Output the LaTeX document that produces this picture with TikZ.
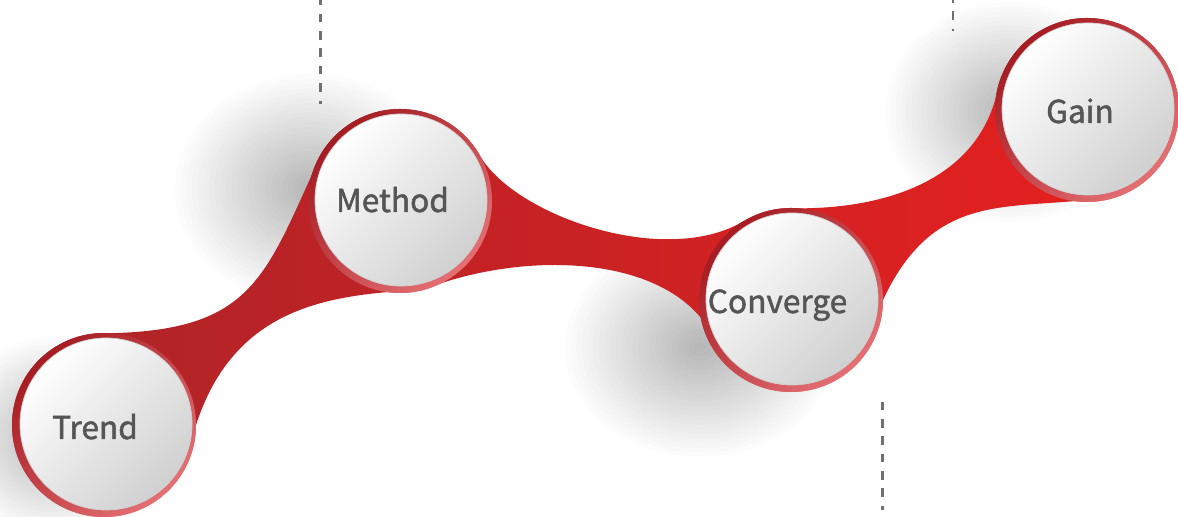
\documentclass[tikz,border=0pt]{standalone}
\usepackage{fontspec}
\newfontfamily\labfont{Noto Sans CJK SC}[FakeBold=1.5]
\definecolor{bandL}{RGB}{176,36,40}
\definecolor{bandR}{RGB}{228,32,32}
\definecolor{ringD}{RGB}{165,28,34}
\definecolor{ringL}{RGB}{228,112,116}
\definecolor{discG}{RGB}{208,208,208}
\definecolor{txt}{RGB}{85,85,85}
\definecolor{guidegray}{RGB}{112,112,112}
\begin{document}
\begin{tikzpicture}[x=0.03cm,y=0.03cm,
  ring/.style={circle, inner sep=0pt, outer sep=0pt, minimum size=5.52cm,
    top color=ringD, bottom color=ringL, shading angle=45},
  disc/.style={circle, inner sep=0pt, outer sep=0pt, minimum size=5.16cm,
    top color=white, bottom color=discG, shading angle=45, draw=black!18, line width=0.6pt},
  lab/.style={anchor=base, text=txt, inner sep=0pt, font=\labfont\fontsize{27}{27}\selectfont},
  guide/.style={draw=guidegray, line width=2.3pt, dash pattern=on 7.3pt off 7.5pt},
  softshade/.style={fill=black, opacity=0.011},
  bandshade/.style={left color=bandL, right color=bandR}]
\fill[white] (0,0) rectangle (1178,517);
\useasboundingbox (0,0) rectangle (1178,517);
% soft shadows
\foreach \k in {1,...,24}{
  \fill[softshade] (310,328) ellipse ({135*\k/24} and {115*\k/24});
  \fill[softshade] (1010,405) ellipse ({125*\k/24} and {110*\k/24});
  \fill[softshade] (700,170) ellipse ({135*\k/24} and {110*\k/24});
  \fill[softshade] (50,80) ellipse ({95*\k/24} and {100*\k/24});
}
% ring nodes
\node[ring] (T) at (104,92) {};
\node[ring] (M) at (400,316) {};
\node[ring] (C) at (791,217) {};
\node[ring] (G) at (1087,407) {};
% bands
\shade[bandshade]
  (T.95) .. controls +(0:160) and +(245:140) .. (M.147) -- (M.center) -- (M.262)
     .. controls +(185:80) and +(72:110) .. (T.0) -- (T.center) -- cycle
  (M.28) .. controls +(-58:70) and +(211:90) .. (C.121) -- (C.center) -- (C.191)
     .. controls +(130:85) and +(22:100) .. (M.283) -- (M.center) -- cycle
  (C.85) .. controls +(0:80) and +(255:90) .. (G.172) -- (G.center) -- (G.262)
     .. controls +(185:80) and +(65:110) .. (C.0) -- (C.center) -- cycle;
% redraw rings over bands
\node[ring] at (T) {};
\node[ring] at (M) {};
\node[ring] at (C) {};
\node[ring] at (G) {};
% white discs
\node[disc] (Tw) at (106,93) {};
\node[disc] (Mw) at (401,317) {};
\node[disc] (Cw) at (792,218) {};
\node[disc] (Gw) at (1088,408) {};
% labels
\node[lab] (Tt) at (95,78) {Trend};
\node[lab] (Mt) at (392.5,305) {Method};
\node[lab] (Ct) at (777.5,204) {Converge};
\node[lab] (Gt) at (1080,394) {Gain};
% dashed guides
\coordinate (d1a) at (320.5,517);
\coordinate (d1b) at (320.5,412.5);
\coordinate (d2a) at (953,517);
\coordinate (d2b) at (953,486);
\coordinate (d3a) at (882.3,115.3);
\coordinate (d3b) at (882.3,7);
\draw[guide, dash phase=3pt] (d1a) -- (d1b);
\draw[guide, dash phase=5pt] (d2a) -- (d2b);
\draw[guide] (d3a) -- (d3b);
\end{tikzpicture}
\end{document}
